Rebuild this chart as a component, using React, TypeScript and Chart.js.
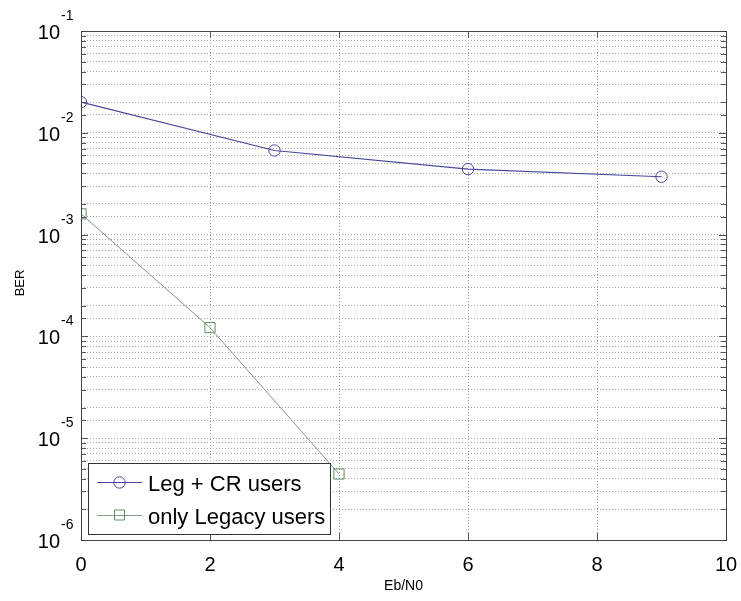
import React, { useEffect, useRef } from 'react';
import { Chart, registerables } from 'chart.js';

Chart.register(...registerables);

// ---- data ----
const crEbN0 = [0, 3, 6, 9];
const crBER = [2.0e-2, 6.7e-3, 4.4e-3, 3.7e-3];
const legacyEbN0 = [0, 2, 4];
const legacyBER = [1.6e-3, 1.22e-4, 4.45e-6];
const seriesNames = ['Leg + CR users', 'only Legacy users'];
const yExponents = [-1, -2, -3, -4, -5, -6];
const yMantissa = '10';
const xTitle = 'Eb/N0';
const yTitle = 'BER';

const FONT = '"Liberation Sans", Arial, Helvetica, sans-serif';
const CR_LINE = '#47479c';
const CR_MARK = '#4a4aa0';
const LEG_LINE = '#849884';
const LEG_MARK = '#5f8f5f';

const decor = {
  id: 'decor',
  beforeDraw(chart: any) {
    const { ctx, width, height } = chart;
    ctx.save();
    ctx.fillStyle = '#ffffff';
    ctx.fillRect(0, 0, width, height);
    ctx.restore();
  },
  afterDraw(chart: any) {
    const { ctx, chartArea: a, scales } = chart;
    const xs = scales.x;
    const ys = scales.y;
    ctx.save();

    // inward tick marks
    ctx.strokeStyle = '#555555';
    ctx.lineWidth = 1;
    ctx.beginPath();
    ys.ticks.forEach((t: any) => {
      const py = Math.round(ys.getPixelForValue(t.value)) + 0.5;
      const lg = Math.log10(t.value);
      const major = Math.abs(lg - Math.round(lg)) < 1e-6;
      const len = major ? 7 : 5;
      ctx.moveTo(a.left, py);
      ctx.lineTo(a.left + len, py);
      ctx.moveTo(a.right, py);
      ctx.lineTo(a.right - len, py);
    });
    xs.ticks.forEach((t: any) => {
      const px = Math.round(xs.getPixelForValue(t.value)) + 0.5;
      ctx.moveTo(px, a.bottom);
      ctx.lineTo(px, a.bottom - 7);
      ctx.moveTo(px, a.top);
      ctx.lineTo(px, a.top + 7);
    });
    ctx.stroke();

    // frame
    ctx.strokeStyle = '#444444';
    ctx.strokeRect(
      Math.round(a.left) + 0.5,
      Math.round(a.top) + 0.5,
      Math.round(a.right - a.left),
      Math.round(a.bottom - a.top)
    );

    // y tick labels 10^e
    ctx.fillStyle = '#000000';
    yExponents.forEach((e) => {
      const py = ys.getPixelForValue(Math.pow(10, e));
      ctx.font = `20px ${FONT}`;
      ctx.textAlign = 'right';
      ctx.textBaseline = 'alphabetic';
      ctx.fillText(yMantissa, a.left - 21, py + 8);
      ctx.font = `14px ${FONT}`;
      ctx.textAlign = 'left';
      ctx.fillText(String(e), a.left - 20, py - 11);
    });

    // axis titles
    ctx.font = `14px ${FONT}`;
    ctx.textAlign = 'center';
    ctx.textBaseline = 'middle';
    ctx.fillText(xTitle, (a.left + a.right) / 2, 586);
    ctx.save();
    ctx.translate(20, 283);
    ctx.rotate(-Math.PI / 2);
    ctx.font = `13px ${FONT}`;
    ctx.fillText(yTitle, 0, 0);
    ctx.restore();

    // legend box
    const bx = a.left + 7;
    const bw = 242;
    const bh = 71;
    const by = a.bottom - 6 - bh;
    ctx.fillStyle = '#ffffff';
    ctx.fillRect(bx, by, bw, bh);
    ctx.strokeStyle = '#333333';
    ctx.lineWidth = 1;
    ctx.strokeRect(Math.round(bx) + 0.5, Math.round(by) + 0.5, bw, bh);

    chart.data.datasets.forEach((ds: any, i: number) => {
      const ry = Math.round(by + 19 + i * 33) + 0.5;
      const lx0 = bx + 9;
      const lx1 = bx + 54;
      ctx.strokeStyle = ds.borderColor;
      ctx.lineWidth = 1;
      ctx.beginPath();
      ctx.moveTo(lx0, ry);
      ctx.lineTo(lx1, ry);
      ctx.stroke();
      const cx = (lx0 + lx1) / 2;
      ctx.strokeStyle = ds.pointBorderColor;
      ctx.fillStyle = '#ffffff';
      ctx.beginPath();
      if (ds.pointStyle === 'circle') {
        ctx.arc(cx, ry, ds.pointRadius, 0, Math.PI * 2);
      } else {
        const s = ds.pointRadius * Math.SQRT1_2;
        ctx.rect(Math.round(cx - s) + 0.5, Math.round(ry - s), Math.round(2 * s), Math.round(2 * s));
      }
      ctx.stroke();
      ctx.fillStyle = '#000000';
      ctx.font = `22px ${FONT}`;
      ctx.textAlign = 'left';
      ctx.textBaseline = 'alphabetic';
      ctx.fillText(ds.label, bx + 60, ry + 8);
    });

    ctx.restore();
  },
};

export default function App() {
  const ref = useRef<HTMLCanvasElement | null>(null);

  useEffect(() => {
    document.body.style.margin = '0';
    const canvas = ref.current;
    if (!canvas) return;
    const chart = new Chart(canvas, {
      type: 'line',
      data: {
        datasets: [
          {
            label: seriesNames[0],
            data: crEbN0.map((x, i) => ({ x, y: crBER[i] })),
            borderColor: CR_LINE,
            borderWidth: 1.2,
            pointStyle: 'circle',
            pointRadius: 5.7,
            pointBorderColor: CR_MARK,
            pointBackgroundColor: 'rgba(0,0,0,0)',
            pointBorderWidth: 1,
            tension: 0,
            fill: false,
          },
          {
            label: seriesNames[1],
            data: legacyEbN0.map((x, i) => ({ x, y: legacyBER[i] })),
            borderColor: LEG_LINE,
            borderWidth: 1,
            pointStyle: 'rect',
            pointRadius: 7.2,
            pointBorderColor: LEG_MARK,
            pointBackgroundColor: 'rgba(0,0,0,0)',
            pointBorderWidth: 1,
            tension: 0,
            fill: false,
          },
        ],
      },
      options: {
        responsive: false,
        animation: false,
        events: [],
        layout: { padding: { top: 31, right: 15, left: 0, bottom: 0 } },
        plugins: {
          legend: { display: false },
          tooltip: { enabled: false },
        },
        scales: {
          x: {
            type: 'linear',
            min: 0,
            max: 10,
            ticks: {
              stepSize: 2,
              color: '#000000',
              font: { family: FONT, size: 20 },
              padding: 0,
              maxRotation: 0,
              autoSkip: false,
            },
            grid: {
              color: '#9a9a9a',
              lineWidth: 1,
              drawTicks: true,
              tickLength: 13,
              tickColor: 'rgba(0,0,0,0)',
            },
            border: { display: false, dash: [1, 2] },
            afterFit: (s: any) => {
              s.height = 61;
            },
          },
          y: {
            type: 'logarithmic',
            min: 1e-6,
            max: 1e-1,
            ticks: { display: false, autoSkip: false },
            grid: {
              color: '#a8a8a8',
              lineWidth: 1,
              drawTicks: false,
            },
            border: { display: false, dash: [1, 2] },
            afterFit: (s: any) => {
              s.width = 81;
            },
          },
        },
      },
      plugins: [decor],
    } as any);
    return () => chart.destroy();
  }, []);

  return (
    <div style={{ position: 'absolute', left: 0, top: 0, width: 741, height: 601 }}>
      <canvas ref={ref} width={741} height={601} />
    </div>
  );
}
